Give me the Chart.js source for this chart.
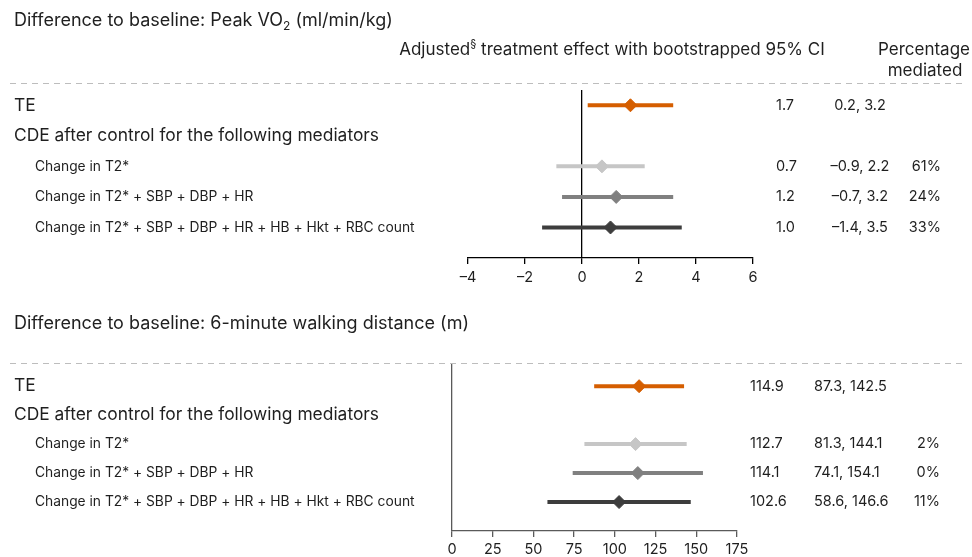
<!DOCTYPE html>
<html>
<head>
<meta charset="utf-8">
<script src="https://cdn.jsdelivr.net/npm/chart.js@4.4.1/dist/chart.umd.min.js"></script>
<style>
  html, body { margin: 0; padding: 0; background: #fff; }
  #wrap { position: relative; width: 972px; height: 557px; }
  #wrap canvas { position: absolute; left: 0; top: 0; }
</style>
</head>
<body>
<div id="wrap">
  <canvas id="vo2" width="972" height="557"></canvas>
  <canvas id="walk" width="972" height="557"></canvas>
</div>
<script>
// ---- data -------------------------------------------------------------
const rowLabels = [
  'TE',
  'CDE after control for the following mediators',
  'Change in T2*',
  'Change in T2* + SBP + DBP + HR',
  'Change in T2* + SBP + DBP + HR + HB + Hkt + RBC count'
];
// row (from rowLabels) that each estimate belongs to
const estimateRows = [0, 2, 3, 4];

// Peak VO2 (ml/min/kg)
const vo2Estimate = [1.7, 0.7, 1.2, 1.0];
const vo2Lower    = [0.2, -0.9, -0.7, -1.4];
const vo2Upper    = [3.2, 2.2, 3.2, 3.5];
const vo2Mediated = [null, 61, 24, 33];
const vo2Ticks    = [-4, -2, 0, 2, 4, 6];

// 6-minute walking distance (m)
const walkEstimate = [114.9, 112.7, 114.1, 102.6];
const walkLower    = [87.3, 81.3, 74.1, 58.6];
const walkUpper    = [142.5, 144.1, 154.1, 146.6];
const walkMediated = [null, 2, 0, 11];
const walkTicks    = [0, 25, 50, 75, 100, 125, 150, 175];

// ---- styling ----------------------------------------------------------
const FONT = 'Inter, Roboto, "Noto Sans", Arial, sans-serif';
const TEXT = '#1f1f1f';
const markColors = ['#d55e00', '#c6c6c6', '#808080', '#3d3d3d'];

function fmtNum(v) { return (v < 0 ? '\u2013' : '') + Math.abs(v).toFixed(1); }

// draw a run of text pieces; pieces may be strings or {sup}/{sub}
function drawRich(ctx, pieces, x, y, size, align) {
  const small = Math.round(size * 0.65);
  const measure = p => {
    if (typeof p === 'string') { ctx.font = size + 'px ' + FONT; return ctx.measureText(p).width; }
    ctx.font = small + 'px ' + FONT;
    return ctx.measureText(p.sup || p.sub).width;
  };
  let total = 0;
  pieces.forEach(p => total += measure(p));
  let cx = align === 'center' ? x - total / 2 : align === 'right' ? x - total : x;
  ctx.textAlign = 'left';
  ctx.textBaseline = 'middle';
  ctx.fillStyle = TEXT;
  pieces.forEach(p => {
    const w = measure(p);
    if (typeof p === 'string') {
      ctx.font = size + 'px ' + FONT;
      ctx.fillText(p, cx, y);
    } else if (p.sup) {
      ctx.font = small + 'px ' + FONT;
      ctx.fillText(p.sup, cx, y - size * 0.35);
    } else {
      ctx.font = small + 'px ' + FONT;
      ctx.fillText(p.sub, cx, y + size * 0.3);
    }
    cx += w;
  });
}

function buildDatasets(est, lo, hi) {
  const sets = [{
    label: 'estimate',
    data: est.map((v, i) => ({ x: v, y: estimateRows[i] })),
    pointStyle: 'rectRot',
    pointRadius: 6.5,
    pointBorderWidth: 1,
    pointBackgroundColor: markColors,
    pointBorderColor: markColors,
    showLine: false,
    order: 0
  }];
  est.forEach((v, i) => {
    sets.push({
      label: 'ci' + i,
      data: [{ x: lo[i], y: estimateRows[i] }, { x: hi[i], y: estimateRows[i] }],
      showLine: true,
      borderColor: markColors[i],
      borderWidth: 4,
      borderCapStyle: 'butt',
      pointRadius: 0,
      order: 1
    });
  });
  return sets;
}

// text, dashed separators and value columns drawn alongside each panel
function panelText(cfg) {
  return {
    id: 'panelText',
    afterDraw(chart) {
      const ctx = chart.ctx;
      const ys = chart.scales.y;
      ctx.save();
      // dashed separator
      ctx.strokeStyle = '#bdbdbd';
      ctx.lineWidth = 1;
      ctx.setLineDash([6, 5]);
      ctx.beginPath();
      ctx.moveTo(10, cfg.dashY);
      ctx.lineTo(962, cfg.dashY);
      ctx.stroke();
      ctx.setLineDash([]);

      drawRich(ctx, cfg.title, 14, cfg.titleY, 18, 'left');
      if (cfg.header) {
        drawRich(ctx, ['Adjusted', { sup: '\u00a7' }, ' treatment effect with bootstrapped 95% CI'], 612, 50, 17, 'center');
        drawRich(ctx, ['Percentage'], 924, 50, 17, 'center');
        drawRich(ctx, ['mediated'], 925, 71, 17, 'center');
      }
      rowLabels.forEach((lab, r) => {
        const y = ys.getPixelForValue(r);
        if (r < 2) drawRich(ctx, [lab], 14, y, 17.4, 'left');
        else drawRich(ctx, [lab], 35, y, 13.8, 'left');
      });
      cfg.est.forEach((v, i) => {
        const y = ys.getPixelForValue(estimateRows[i]);
        drawRich(ctx, [fmtNum(v)], cfg.estX, y, 14.5, 'left');
        drawRich(ctx, [fmtNum(cfg.lo[i]) + ', ' + fmtNum(cfg.hi[i])], cfg.ciX, y, 14.5, cfg.ciAlign);
        if (cfg.med[i] !== null) drawRich(ctx, [cfg.med[i] + '%'], cfg.medX, y, 14.5, 'right');
      });
      ctx.restore();
    }
  };
}

function makeChart(id, o) {
  return new Chart(document.getElementById(id), {
    type: 'scatter',
    data: { datasets: buildDatasets(o.est, o.lo, o.hi) },
    options: {
      responsive: false,
      animation: false,
      devicePixelRatio: 1,
      events: [],
      layout: { padding: o.padding },
      plugins: { legend: { display: false }, tooltip: { enabled: false } },
      elements: { line: { tension: 0 } },
      datasets: { scatter: { clip: false } },
      scales: {
        x: {
          type: 'linear',
          min: o.ticks[0],
          max: o.ticks[o.ticks.length - 1],
          afterBuildTicks: s => { s.ticks = o.ticks.map(v => ({ value: v })); },
          afterFit: s => { s.height = o.axisH; },
          border: { color: o.axisColor, width: 1.3 },
          grid: {
            drawOnChartArea: true,
            drawTicks: true,
            tickLength: 6,
            tickColor: o.axisColor,
            lineWidth: 1.3,
            color: c => (c.tick && c.tick.value === 0 ? o.axisColor : 'rgba(0,0,0,0)')
          },
          ticks: {
            padding: o.tickPad,
            color: TEXT,
            font: { family: FONT, size: 14.5 },
            callback: v => String(v).replace('-', '\u2013')
          }
        },
        y: { type: 'linear', reverse: true, min: o.yMin, max: 5, display: false }
      }
    },
    plugins: [panelText(o.text)]
  });
}

makeChart('vo2', {
  est: vo2Estimate, lo: vo2Lower, hi: vo2Upper, ticks: vo2Ticks,
  yMin: -0.5, axisH: 30, axisColor: '#000', tickPad: 5,
  padding: { left: 468, right: 219, top: 90, bottom: 557 - 258 - 30 },
  text: {
    title: ['Difference to baseline: Peak VO', { sub: '2' }, ' (ml/min/kg)'],
    titleY: 21, header: true, dashY: 83.5,
    est: vo2Estimate, lo: vo2Lower, hi: vo2Upper, med: vo2Mediated,
    estX: 776, ciX: 860, ciAlign: 'center', medX: 941
  }
});

makeChart('walk', {
  est: walkEstimate, lo: walkLower, hi: walkUpper, ticks: walkTicks,
  yMin: -0.8, axisH: 26, axisColor: '#5a5a5a', tickPad: 4,
  padding: { left: 452, right: 235, top: 363, bottom: 0 },
  text: {
    title: ['Difference to baseline: 6-minute walking distance (m)'],
    titleY: 324, header: false, dashY: 363.5,
    est: walkEstimate, lo: walkLower, hi: walkUpper, med: walkMediated,
    estX: 750, ciX: 814, ciAlign: 'left', medX: 940
  }
});
</script>
</body>
</html>
